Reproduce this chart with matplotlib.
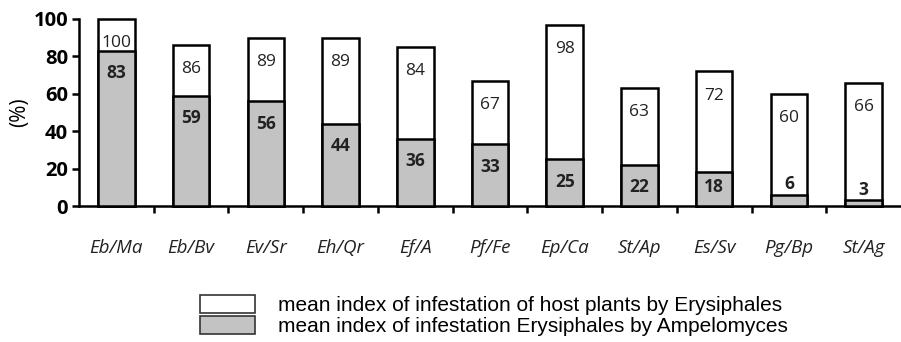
import matplotlib
matplotlib.use("Agg")
import matplotlib.pyplot as plt
from matplotlib.patches import Patch
import numpy as np

categories = ["Eb/Ma", "Eb/Bv", "Ev/Sr", "Eh/Qr", "Ef/A", "Pf/Fe", "Ep/Ca", "St/Ap", "Es/Sv", "Pg/Bp", "St/Ag"]
host_infestation = [100, 86, 89, 89, 84, 67, 98, 63, 72, 60, 66]
ampelomyces = [83, 59, 56, 44, 36, 33, 25, 22, 18, 6, 3]
bar_tops = [100, 86, 90, 90, 85, 67, 97, 63, 72, 60, 66]
legend_labels = ["mean index of infestation of host plants by Erysiphales",
                 "mean index of infestation Erysiphales by Ampelomyces"]
yticks = [0, 20, 40, 60, 80, 100]

W, H = 901, 342
fig = plt.figure(figsize=(W / 100, H / 100), dpi=100)
ax = fig.add_axes([79 / W, 1 - 206 / H, (901 - 79) / W, (206 - 19) / H])

x = np.arange(len(categories))
bw = 0.49
grey = "#c3c3c3"
ax.bar(x, bar_tops, width=bw, color="white", edgecolor="black", linewidth=1.8, clip_on=False, zorder=2)
ax.bar(x, ampelomyces, width=bw, color=grey, edgecolor="black", linewidth=1.8, clip_on=False, zorder=3)

lab_font = "Open Sans"
for xi, t, g in zip(x, host_infestation, bar_tops):
    ax.text(xi, g - 13, str(t), ha="center", va="center", fontsize=12.5, family=lab_font, color="#222222", zorder=5)
for xi, a in zip(x, ampelomyces):
    if a >= 10:
        yy = max(a - 12, 10)
    else:
        yy = a + 5.5
    ax.text(xi, yy, str(a), ha="center", va="center", fontsize=12.5, family=lab_font, fontweight="bold", color="#222222", zorder=5)

ax.set_xlim(-0.5, len(categories) - 0.5)
ax.set_ylim(0, 100)
ax.set_yticks(yticks)
ax.set_yticklabels([str(v) for v in yticks], family=lab_font, fontweight="bold", fontsize=14.5)
ax.tick_params(axis="y", length=5, width=1.8, pad=3)

ax.set_xticks(np.arange(len(categories) - 1) + 0.5)
ax.set_xticklabels([])
ax.tick_params(axis="x", which="major", length=5, width=1.8, direction="out")
ax.set_xticks(x, minor=True)
ax.set_xticklabels(categories, minor=True, family=lab_font, style="italic", fontsize=13.5, color="#222222")
ax.tick_params(axis="x", which="minor", length=0, pad=24)

for s in ["top", "right"]:
    ax.spines[s].set_visible(False)
for s in ["left", "bottom"]:
    ax.spines[s].set_linewidth(1.8)

ax.set_ylabel("(%)", family=lab_font, fontsize=15, labelpad=2)

handles = [Patch(facecolor="white", edgecolor="#333333", linewidth=1.2),
           Patch(facecolor=grey, edgecolor="#333333", linewidth=1.2)]
fig.legend(handles, legend_labels, loc="upper left", bbox_to_anchor=(200 / W, 1 - 295 / H),
           frameon=False, prop={"family": "Liberation Sans", "size": 15},
           handlelength=2.64, handleheight=0.96, labelspacing=0.02, handletextpad=1.1,
           borderpad=0, borderaxespad=0)

fig.savefig("out.png", dpi=100)
